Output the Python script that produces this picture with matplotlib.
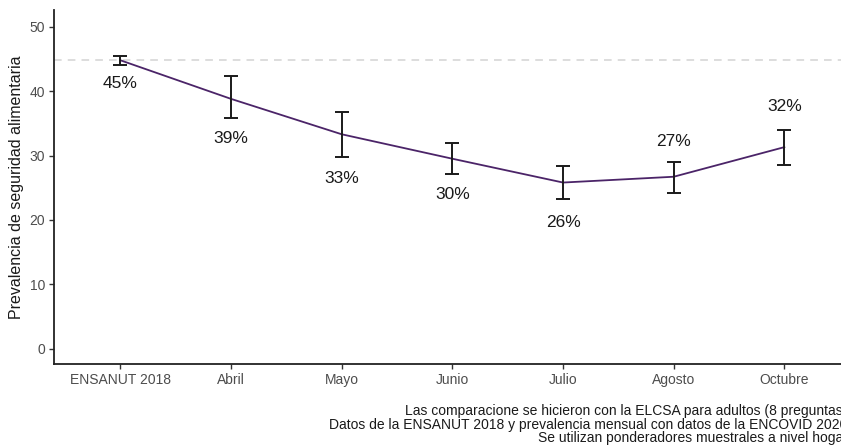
import matplotlib
matplotlib.use("Agg")
import matplotlib.pyplot as plt

plt.rcParams['font.family'] = ['Liberation Sans', 'DejaVu Sans']

# data
periodos = ["ENSANUT 2018", "Abril", "Mayo", "Junio", "Julio", "Agosto", "Octubre"]
prevalencia = [44.8, 38.8, 33.3, 29.5, 25.8, 26.7, 31.3]
ci_bajo = [44.1, 35.9, 29.7, 27.1, 23.2, 24.2, 28.5]
ci_alto = [45.5, 42.3, 36.8, 32.0, 28.3, 29.0, 33.9]
etiquetas = ["45%", "39%", "33%", "30%", "26%", "27%", "32%"]
arriba = [False, False, False, False, False, True, True]  # label above the bar?
referencia = 44.8

# label gap from the error bar cap, in points
desfase = [8, 10, 10, 9.5, 11, 9, 12]

caption = ("Las comparacione se hicieron con la ELCSA para adultos (8 preguntas)\n"
           "Datos de la ENSANUT 2018 y prevalencia mensual con datos de la ENCOVID 2020\n"
           "Se utilizan ponderadores muestrales a nivel hogar")

fig = plt.figure(figsize=(8.41, 4.48), dpi=100)
ax = fig.add_axes([0.0642, 0.1875, 0.95, 0.79])

x = list(range(len(periodos)))
ax.axhline(referencia, color="#d3d3d3", linestyle=(0, (5, 4)), linewidth=1.1, zorder=1)
ax.plot(x, prevalencia, color="#4b2468", linewidth=1.3, zorder=2)
yerr = [[p - lo for p, lo in zip(prevalencia, ci_bajo)],
        [hi - p for p, hi in zip(prevalencia, ci_alto)]]
ax.errorbar(x, prevalencia, yerr=yerr, fmt="none", ecolor="#1a1a1a",
            elinewidth=1.4, capsize=5, capthick=1.4, zorder=3)

for i, lab in enumerate(etiquetas):
    if arriba[i]:
        ax.annotate(lab, (x[i], ci_alto[i]), xytext=(0, desfase[i]), textcoords="offset points",
                    ha="center", va="bottom", fontsize=12.5, color="#1a1a1a")
    else:
        ax.annotate(lab, (x[i], ci_bajo[i]), xytext=(0, -desfase[i]), textcoords="offset points",
                    ha="center", va="top", fontsize=12.5, color="#1a1a1a")

ax.set_xlim(-0.6, 6.62)
ax.set_ylim(-2.4, 52.6)
ax.set_xticks(x)
ax.set_xticklabels(periodos)
ax.set_yticks([0, 10, 20, 30, 40, 50])
ax.tick_params(axis="both", labelsize=10, colors="#4d4d4d", length=3.5, width=1, pad=3)
ax.tick_params(axis="both", color="#333333")
for s in ["top", "right"]:
    ax.spines[s].set_visible(False)
for s in ["left", "bottom"]:
    ax.spines[s].set_linewidth(1.3)
    ax.spines[s].set_color("#222222")
ax.set_ylabel("Prevalencia de seguridad alimentaria", fontsize=11.5, color="#1a1a1a", labelpad=4)

fig.text(1.008, 0.052, caption, ha="right", va="center", fontsize=10,
         color="#1a1a1a", linespacing=0.95)

fig.savefig("out.png", dpi=100)
